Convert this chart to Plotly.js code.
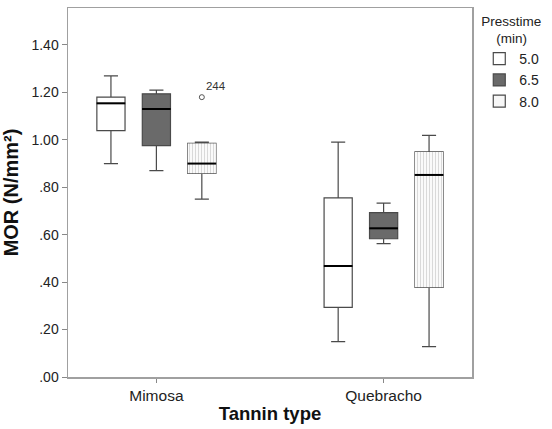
<!DOCTYPE html>
<html>
<head>
<meta charset="utf-8">
<script src="https://cdn.plot.ly/plotly-3.0.1.min.js"></script>
<style>html,body{margin:0;padding:0;background:#fff}#chart{width:552px;height:429px}</style>
</head>
<body>
<div id="chart"></div>
<script>
// ---- data ----
var categories = ['Mimosa', 'Quebracho'];
var presstimes = ['5.0', '6.5', '8.0'];

var lower_5_0  = [0.90, 0.149];
var q1_5_0     = [1.039, 0.294];
var median_5_0 = [1.154, 0.468];
var q3_5_0     = [1.180, 0.755];
var upper_5_0  = [1.27, 0.99];

var lower_6_5  = [0.87, 0.562];
var q1_6_5     = [0.976, 0.583];
var median_6_5 = [1.13, 0.627];
var q3_6_5     = [1.194, 0.693];
var upper_6_5  = [1.21, 0.733];

var lower_8_0  = [0.75, 0.128];
var q1_8_0     = [0.859, 0.378];
var median_8_0 = [0.90, 0.852];
var q3_8_0     = [0.985, 0.949];
var upper_8_0  = [0.99, 1.019];

var outlierCategory = ['Mimosa'];
var outlierGroup = ['8.0'];
var outlierValue = [1.18];
var outlierLabel = ['244'];

var yTickVals = [0, 0.2, 0.4, 0.6, 0.8, 1.0, 1.2, 1.4];
var yTickText = ['.00', '.20', '.40', '.60', '.80', '1.00', '1.20', '1.40'];

// ---- styling ----
var FONT = 'Liberation Sans, Arial, sans-serif';
var groupOffsets = [-0.2, 0, 0.2];   // box offsets within a category (boxgap 0.4 -> group width 0.6)
var boxWidth = 0.124;
var xRange = [-0.389, 1.389];
var lineCol = '#4a4a4a';

function boxTrace(name, lo, q1, med, q3, up, fill) {
  return {
    type: 'box', name: name, x: categories,
    lowerfence: lo, q1: q1, median: med, q3: q3, upperfence: up,
    fillcolor: fill, line: {color: lineCol, width: 1.2},
    whiskerwidth: 0.5, boxpoints: false, hoverinfo: 'skip'
  };
}

// patterned body under the 8.0 boxes
var patIdx = presstimes.indexOf('8.0');
var patternBar = {
  type: 'bar', xaxis: 'x2', showlegend: false, hoverinfo: 'skip',
  x: categories.map(function (c, i) { return i + groupOffsets[patIdx]; }),
  base: q1_8_0,
  y: q3_8_0.map(function (v, i) { return v - q1_8_0[i]; }),
  width: boxWidth,
  marker: {color: '#f8f8f8', line: {width: 0},
           pattern: {shape: '|', fgcolor: '#d6d6d6', bgcolor: '#fafafa', size: 3, solidity: 0.3}}
};

// darker, heavier median lines (as in the reference)
var medX = [], medY = [];
[median_5_0, median_6_5, median_8_0].forEach(function (arr, g) {
  arr.forEach(function (v, i) { medX.push(i + groupOffsets[g]); medY.push(v); });
});
var medianTrace = {
  type: 'scatter', mode: 'markers', xaxis: 'x2', showlegend: false, hoverinfo: 'skip',
  x: medX, y: medY,
  marker: {symbol: 'line-ew', size: 20.5, color: '#000', line: {width: 2, color: '#000'}}
};

var outlierTrace = {
  type: 'scatter', mode: 'markers+text', xaxis: 'x2', showlegend: false, hoverinfo: 'skip',
  x: outlierCategory.map(function (c, i) { return categories.indexOf(c) + groupOffsets[presstimes.indexOf(outlierGroup[i])]; }),
  y: outlierValue, text: outlierLabel, textposition: 'top right',
  textfont: {family: FONT, size: 11.5, color: '#333'},
  marker: {symbol: 'circle-open', size: 5, color: '#555', line: {width: 1}}
};

var data = [
  patternBar,
  boxTrace(presstimes[0], lower_5_0, q1_5_0, median_5_0, q3_5_0, upper_5_0, '#ffffff'),
  boxTrace(presstimes[1], lower_6_5, q1_6_5, median_6_5, q3_6_5, upper_6_5, '#6a6a6a'),
  boxTrace(presstimes[2], lower_8_0, q1_8_0, median_8_0, q3_8_0, upper_8_0, 'rgba(225,225,225,0.25)'),
  medianTrace,
  outlierTrace
];

var layout = {
  width: 552, height: 429,
  margin: {l: 68, r: 68, t: 8, b: 52},
  paper_bgcolor: '#ffffff', plot_bgcolor: '#ffffff',
  font: {family: FONT, color: '#222', size: 13},
  boxmode: 'group', boxgap: 0.4, boxgroupgap: 0.38,
  barmode: 'overlay',
  showlegend: true,
  legend: {
    x: 1.018, y: 1.0, xanchor: 'left', yanchor: 'top',
    title: {text: 'Presstime<br>&nbsp;&nbsp;&nbsp;&nbsp;(min)', side: 'top', font: {family: FONT, size: 13.5, color: '#222'}},
    font: {family: FONT, size: 14, color: '#222'},
    itemwidth: 30, tracegroupgap: 0, bgcolor: 'rgba(0,0,0,0)'
  },
  xaxis: {
    type: 'category', range: xRange,
    showline: true, mirror: true, linecolor: '#a0a0a0', linewidth: 1.5,
    ticks: 'outside', ticklen: 4, tickcolor: '#888', showgrid: false, zeroline: false,
    tickfont: {family: FONT, size: 15.5, color: '#222'},
    title: {text: '<b>Tannin type</b>', font: {family: FONT, size: 18.5, color: '#111'}, standoff: 4}
  },
  xaxis2: {
    overlaying: 'x', range: xRange, visible: false, showgrid: false, zeroline: false
  },
  yaxis: {
    range: [0, 1.556],
    tickvals: yTickVals, ticktext: yTickText,
    showline: true, mirror: true, linecolor: '#a0a0a0', linewidth: 1.5,
    ticks: 'outside', ticklen: 5, tickcolor: '#888', showgrid: false, zeroline: false,
    tickfont: {family: FONT, size: 14, color: '#222'},
    title: {text: '<b>MOR (N/mm²)</b>', font: {family: FONT, size: 20, color: '#111'}, standoff: 10}
  }
};

Plotly.newPlot('chart', data, layout, {staticPlot: true, displayModeBar: false});
</script>
</body>
</html>
